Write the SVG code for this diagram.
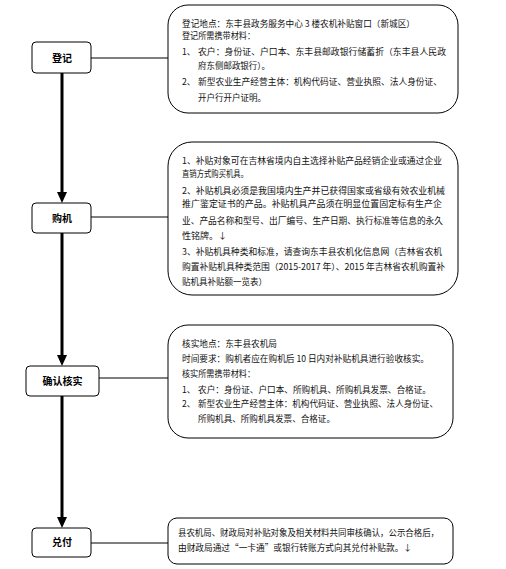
<svg xmlns="http://www.w3.org/2000/svg" width="506" height="569" viewBox="0 0 506 569">
<style>
.bg{fill:#fff}
.step{fill:#fff;stroke:#000;stroke-width:1}
.note{fill:#fff;stroke:#000;stroke-width:1}
.lbl{font-family:"Noto Sans CJK SC","Liberation Sans",sans-serif;font-size:10px;font-weight:bold;fill:#000;text-anchor:middle}
.t{font-family:"Noto Sans CJK SC","Liberation Sans",sans-serif;font-size:8.6px;fill:#111}
.flow{stroke:#000;stroke-width:3;fill:none}
.link{stroke:#000;stroke-width:1;fill:none}
</style>
<defs>
<marker id="ah" viewBox="0 0 11 10" refX="0" refY="5" markerWidth="11" markerHeight="10" markerUnits="userSpaceOnUse" orient="auto">
<path d="M0,0 L11,5 L0,10 z" fill="#000"/>
</marker>
</defs>
<rect class="bg" x="0" y="0" width="506" height="569"/>

<g id="connectors">
<line class="flow" x1="62" y1="73" x2="62" y2="192" marker-end="url(#ah)"/>
<line class="flow" x1="62" y1="233" x2="62" y2="355" marker-end="url(#ah)"/>
<line class="flow" x1="62" y1="396" x2="62" y2="517" marker-end="url(#ah)"/>
<line class="link" x1="91" y1="58" x2="168" y2="58"/>
<line class="link" x1="91" y1="217" x2="168" y2="217"/>
<line class="link" x1="99" y1="378" x2="168" y2="378"/>
<line class="link" x1="91" y1="543" x2="168" y2="543"/>
</g>

<g id="step-register">
<rect class="step" x="32" y="42" width="59" height="31" rx="4"/>
<text class="lbl" x="62" y="61.5">登记</text>
</g>
<g id="step-buy">
<rect class="step" x="32" y="203" width="59" height="30" rx="4"/>
<text class="lbl" x="62" y="221.5">购机</text>
</g>
<g id="step-verify">
<rect class="step" x="26" y="366" width="73" height="30" rx="4"/>
<text class="lbl" x="62.5" y="384.5">确认核实</text>
</g>
<g id="step-pay">
<rect class="step" x="32" y="528" width="59" height="29" rx="4"/>
<text class="lbl" x="62" y="546">兑付</text>
</g>

<g id="note-register">
<rect class="note" x="168" y="5" width="290" height="108" rx="20"/>
<text class="t" x="182" y="26.5" textLength="233" lengthAdjust="spacingAndGlyphs">登记地点：东丰县政务服务中心 3 楼农机补贴窗口（新城区）</text>
<text class="t" x="182" y="38.5" textLength="73" lengthAdjust="spacingAndGlyphs">登记所需携带材料：</text>
<text class="t" x="182" y="55">1、</text>
<text class="t" x="198" y="55" textLength="248" lengthAdjust="spacingAndGlyphs">农户：身份证、户口本、东丰县邮政银行储蓄折（东丰县人民政</text>
<text class="t" x="198" y="68.5" textLength="72" lengthAdjust="spacingAndGlyphs">府东侧邮政银行）。</text>
<text class="t" x="182" y="85">2、</text>
<text class="t" x="198" y="85" textLength="244" lengthAdjust="spacingAndGlyphs">新型农业生产经营主体：机构代码证、营业执照、法人身份证、</text>
<text class="t" x="198" y="100.5" textLength="68" lengthAdjust="spacingAndGlyphs">开户行开户证明。</text>
</g>

<g id="note-buy">
<rect class="note" x="168" y="142" width="290" height="153" rx="24"/>
<text class="t" x="182" y="163.5" textLength="260" lengthAdjust="spacingAndGlyphs">1、补贴对象可在吉林省境内自主选择补贴产品经销企业或通过企业</text>
<text class="t" x="182" y="177" textLength="66" lengthAdjust="spacingAndGlyphs">直销方式购买机具。</text>
<text class="t" x="182" y="193.5" textLength="263" lengthAdjust="spacingAndGlyphs">2、补贴机具必须是我国境内生产并已获得国家或省级有效农业机械</text>
<text class="t" x="182" y="207" textLength="260" lengthAdjust="spacingAndGlyphs">推广鉴定证书的产品。补贴机具产品须在明显位置固定标有生产企</text>
<text class="t" x="182" y="223.5" textLength="261" lengthAdjust="spacingAndGlyphs">业、产品名称和型号、出厂编号、生产日期、执行标准等信息的永久</text>
<text class="t" x="182" y="239" textLength="45" lengthAdjust="spacingAndGlyphs">性铭牌。↓</text>
<text class="t" x="182" y="254.5" textLength="260" lengthAdjust="spacingAndGlyphs">3、补贴机具种类和标准，请查询东丰县农机化信息网（吉林省农机</text>
<text class="t" x="182" y="270" textLength="263" lengthAdjust="spacingAndGlyphs">购置补贴机具种类范围（2015-2017 年）、2015 年吉林省农机购置补</text>
<text class="t" x="182" y="285" textLength="85" lengthAdjust="spacingAndGlyphs">贴机具补贴额一览表）</text>
</g>

<g id="note-verify">
<rect class="note" x="168" y="325" width="285" height="113" rx="20"/>
<text class="t" x="182" y="347" textLength="95" lengthAdjust="spacingAndGlyphs">核实地点：东丰县农机局</text>
<text class="t" x="182" y="362" textLength="247" lengthAdjust="spacingAndGlyphs">时间要求：购机者应在购机后 10 日内对补贴机具进行验收核实。</text>
<text class="t" x="182" y="377" textLength="73" lengthAdjust="spacingAndGlyphs">核实所需携带材料：</text>
<text class="t" x="182" y="393">1、</text>
<text class="t" x="198" y="393" textLength="233" lengthAdjust="spacingAndGlyphs">农户：身份证、户口本、所购机具、所购机具发票、合格证。</text>
<text class="t" x="182" y="407">2、</text>
<text class="t" x="198" y="407" textLength="240" lengthAdjust="spacingAndGlyphs">新型农业生产经营主体：机构代码证、营业执照、法人身份证、</text>
<text class="t" x="198" y="422" textLength="137" lengthAdjust="spacingAndGlyphs">所购机具、所购机具发票、合格证。</text>
</g>

<g id="note-pay">
<rect class="note" x="168" y="518" width="285" height="46" rx="9"/>
<text class="t" x="178" y="536" textLength="261" lengthAdjust="spacingAndGlyphs">县农机局、财政局对补贴对象及相关材料共同审核确认，公示合格后，</text>
<text class="t" x="178" y="551" textLength="234" lengthAdjust="spacingAndGlyphs">由财政局通过“一卡通”或银行转账方式向其兑付补贴款。↓</text>
</g>
</svg>
